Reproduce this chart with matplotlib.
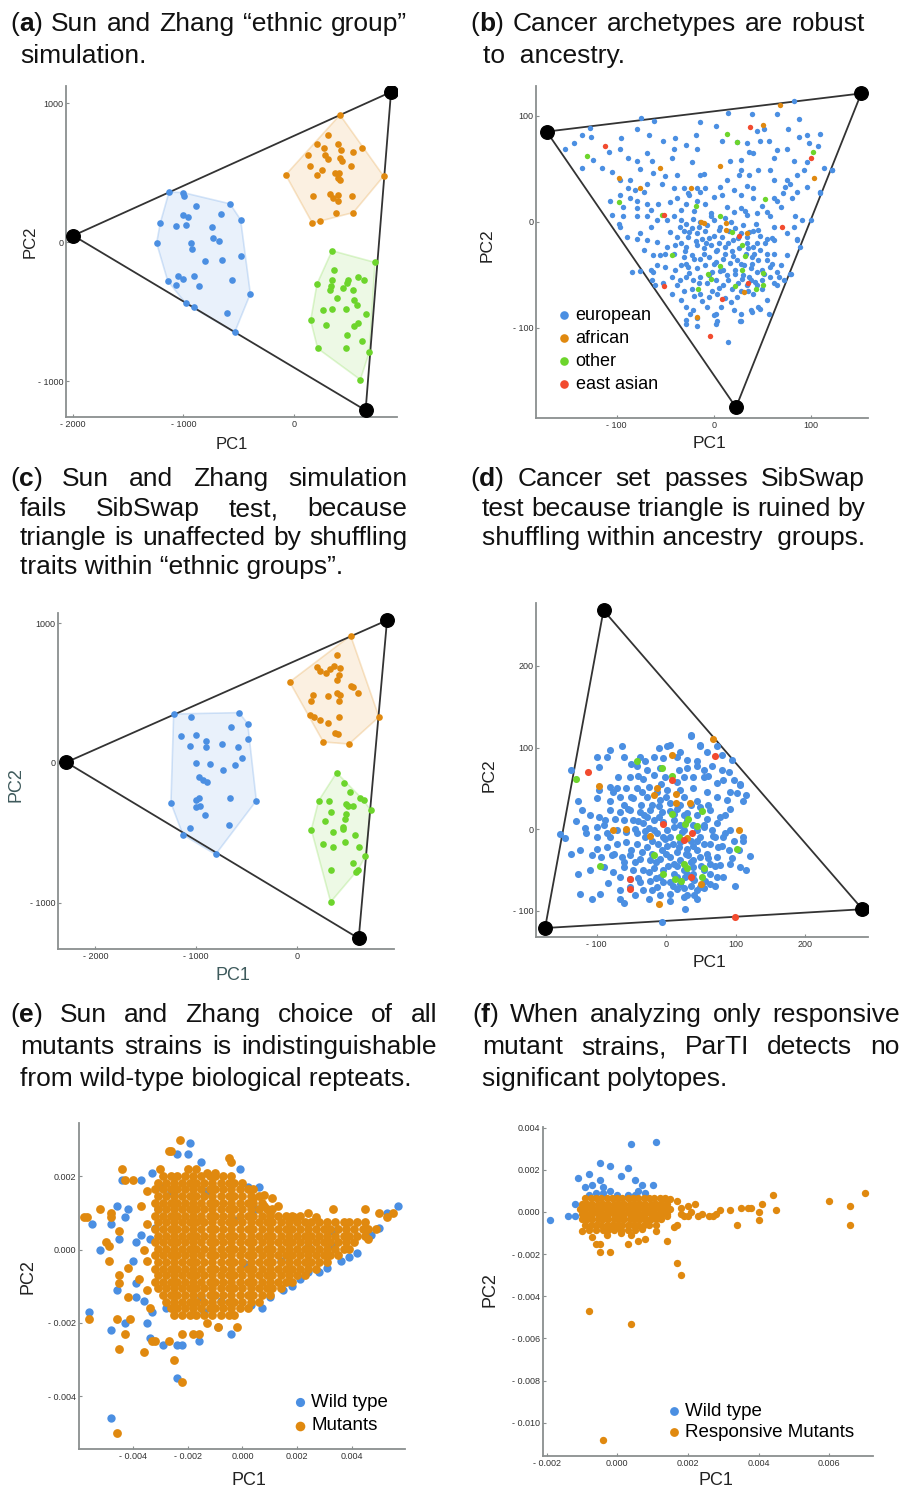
import numpy as np
import matplotlib
matplotlib.use("Agg")
import matplotlib.pyplot as plt
from matplotlib.patches import Polygon

plt.rcParams['font.family'] = ['Liberation Sans', 'DejaVu Sans']

W, H = 904, 1490

BLUE = '#4b8fe2'
ORANGE = '#e0890f'
GREEN = '#6dd52c'
RED = '#f24b2f'

# ---------------- panel a: Sun and Zhang simulation ----------------
a_vertices = [(-1997, 47), (878, 1081), (648, -1211)]
a_blue = [(-1131, 360), (-1005, 357), (-998, 333), (-890, 261), (-579, 276), (-661, 199),
          (-1002, 194), (-956, 180), (-1210, 137), (-1068, 118), (-977, 122), (-483, 161),
          (-739, 108), (-730, 29), (-679, 5), (-1243, -7), (-935, -7), (-923, -48),
          (-805, -139), (-649, -127), (-483, -103), (-1143, -278), (-1071, -312), (-1047, -247),
          (-1008, -264), (-905, -242), (-860, -319), (-558, -271), (-395, -372), (-980, -441),
          (-905, -465), (-609, -511), (-537, -650)]
a_orange = [(416, 916), (305, 770), (205, 707), (395, 703), (271, 676), (428, 664), (537, 647),
            (615, 676), (130, 624), (281, 628), (311, 600), (416, 604), (434, 585), (142, 549),
            (253, 516), (516, 547), (211, 484), (371, 496), (407, 496), (-75, 484), (811, 475),
            (395, 460), (416, 448), (175, 333), (326, 345), (401, 341), (356, 319), (401, 295),
            (528, 329), (380, 209), (537, 213), (166, 137), (235, 153)]
a_green = [(344, -62), (733, -146), (359, -204), (208, -302), (341, -276), (338, -314),
           (326, -348), (446, -331), (492, -276), (477, -295), (576, -252), (637, -271),
           (531, -343), (392, -400), (546, -415), (573, -456), (265, -492), (344, -480),
           (468, -480), (655, -518), (151, -564), (290, -595), (546, -607), (582, -583),
           (480, -667), (615, -712), (214, -765), (471, -763), (682, -791), (600, -990)]

# ---------------- panel c: SibSwap on simulation ----------------
c_vertices = [(-2288, 5), (893, 1023), (612, -1257)]
c_blue = [(-1223, 351), (-1048, 332), (-575, 361), (-489, 282), (-658, 260), (-1154, 191),
          (-998, 198), (-906, 160), (-906, 112), (-1064, 119), (-747, 136), (-585, 112),
          (-483, 174), (-545, 33), (-998, 2), (-866, -5), (-615, -12), (-734, -53),
          (-972, -103), (-932, -124), (-893, -139), (-1250, -287), (-998, -263), (-972, -251),
          (-998, -315), (-962, -311), (-661, -251), (-403, -270), (-916, -375), (-678, -444),
          (-1064, -468), (-1131, -514), (-807, -655)]
c_orange = [(532, 913), (400, 774), (198, 688), (231, 659), (324, 674), (367, 698), (426, 679),
            (284, 648), (413, 628), (397, 597), (-73, 581), (532, 550), (555, 545), (608, 499),
            (159, 487), (307, 483), (393, 499), (426, 485), (413, 447), (139, 447), (126, 346),
            (169, 327), (231, 306), (307, 287), (417, 330), (813, 330), (374, 215), (410, 205),
            (261, 151), (516, 136)]
c_green = [(393, -69), (466, -146), (522, -208), (215, -270), (314, -270), (483, -294),
           (509, -311), (555, -306), (628, -251), (661, -268), (731, -339), (334, -349),
           (489, -363), (479, -401), (281, -418), (456, -456), (456, -473), (142, -478),
           (357, -495), (575, -519), (479, -569), (258, -583), (357, -600), (615, -600),
           (678, -669), (552, -717), (334, -769), (582, -779), (605, -765), (334, -996)]

# ---------------- panel b: cancer archetypes ----------------
b_vertices = [(-172, 85), (152, 121), (23, -175)]
b_european = [
    (83, 114), (15, 103), (39, 102), (65, 102), (88, 97), (-75, 98), (-61, 95), (-14, 94),
    (2, 90), (45, 86), (52, 87), (77, 87), (-127, 88), (-136, 82), (-144, 74), (-153, 69),
    (-126, 80), (-95, 79), (-79, 87), (-67, 82), (-52, 76), (-40, 79), (-18, 82), (9, 76),
    (24, 75), (34, 74), (48, 76), (57, 76), (88, 80), (96, 82), (110, 83), (98, 74), (107, 71),
    (65, 68), (76, 69), (36, 66), (41, 65), (-17, 69), (-28, 72), (-41, 69), (-69, 65),
    (-96, 69), (-108, 66), (-124, 58), (-136, 51), (-115, 51), (-105, 47), (-88, 60), (-79, 57),
    (-64, 57), (-43, 60), (-22, 56), (17, 57), (28, 58), (62, 60), (83, 57), (96, 56),
    (114, 51), (122, 49), (58, 49), (46, 49), (28, 49), (36, 44), (14, 39), (26, 44), (-14, 44),
    (-38, 44), (-50, 43), (-62, 46), (-76, 50), (-96, 39), (-86, 39), (-69, 36), (-88, 32),
    (-81, 30), (-72, 28), (-53, 36), (-41, 32), (-31, 32), (-17, 32), (-9, 32), (7, 33),
    (21, 30), (34, 34), (41, 32), (62, 39), (76, 39), (86, 44), (93, 49), (79, 36), (74, 33),
    (71, 27), (86, 28), (96, 33), (110, 28), (81, 22), (62, 22), (41, 22), (28, 25), (9, 25),
    (0, 23), (-14, 28), (-26, 27), (-38, 22), (-45, 19), (-57, 17), (-69, 17), (-79, 20),
    (-86, 22), (-96, 25), (-107, 20), (-93, 14), (-79, 13), (-65, 11), (-79, 5), (-69, 5),
    (-58, 2), (-93, 5), (-105, 6), (-98, -2), (-96, -5), (-89, -14), (-76, -11), (-65, -5),
    (-48, 2), (-41, 5), (-34, 11), (-28, 17), (-17, 20), (-9, 17), (14, 14), (21, 9), (28, 13),
    (34, 6), (45, 8), (55, 9), (69, 14), (84, 5), (58, 5), (100, 2), (62, -5), (83, -5),
    (76, -11), (86, -16), (89, -24), (76, -31), (62, -30), (55, -36), (58, -43), (48, -27),
    (41, -24), (34, -20), (-34, 2), (-28, -2), (-21, 3), (-14, 0), (-7, -3), (0, 2), (7, -5),
    (-22, -6), (-31, -9), (-38, -14), (-26, -14), (-17, -11), (-9, -9), (0, -13), (9, -14),
    (16, -9), (22, -6), (28, -11), (34, -14), (41, -9), (48, -13), (55, -16), (62, -17),
    (-34, -20), (-28, -24), (-17, -22), (-10, -25), (-3, -22), (3, -27), (12, -24), (19, -28),
    (26, -25), (33, -30), (40, -33), (46, -36), (-41, -30), (-31, -33), (-22, -31), (-14, -35),
    (-5, -33), (2, -38), (10, -35), (17, -39), (24, -36), (31, -41), (38, -44), (45, -47),
    (52, -49), (58, -52), (65, -47), (-34, -41), (-26, -43), (-17, -44), (-9, -41), (-2, -47),
    (7, -46), (14, -50), (22, -49), (29, -54), (36, -52), (43, -57), (-28, -52), (-21, -55),
    (-14, -52), (-7, -58), (2, -55), (10, -60), (19, -63), (28, -65), (34, -60), (-38, -60),
    (-31, -65), (-22, -63), (-14, -68), (-5, -71), (3, -68), (12, -72), (24, -71), (41, -68),
    (50, -63), (62, -58), (72, -55), (79, -49), (69, -41), (-43, -52), (-50, -43), (-58, -41),
    (-55, -31), (-48, -24), (-58, -19), (-69, -17), (-79, -16), (-72, -27), (-62, -31),
    (-76, -46), (-62, -47), (-64, -55), (-52, -58), (-43, -68), (-34, -74), (-28, -80),
    (-21, -83), (-7, -80), (2, -87), (-17, -91), (-28, -93), (3, -94), (21, -83), (28, -87),
    (38, -83), (46, -80), (55, -74), (28, -94), (-28, -96), (-17, -98), (2, -96), (15, -113),
    (27, -94), (40, -85), (48, -82), (57, -87), (-24, -87), (-84, -47), (-65, -45), (122, 49),
    (110, 27), (91, 2), (86, -17), (80, -49), (67, -52), (-3, 8), (5, -20), (-12, -16),
    (20, -17), (-40, -22), (30, -3), (12, 4), (-20, 10), (53, -20), (44, -2),
    (-35, -5), (-25, -10), (-15, -5), (-5, -15), (5, -8), (15, -20), (25, -15), (35, -25),
    (45, -20), (-30, -28), (-20, -35), (-10, -30), (0, -40), (10, -45), (20, -32), (30, -50),
    (40, -40), (50, -45), (-25, -48), (-15, -58), (-5, -50), (5, -62), (15, -55), (25, -58),
    (35, -65), (45, -60), (-35, -55), (-12, -75), (8, -80), (18, -76), (-2, -65), (-20, -70),
    (55, -30), (60, -40), (50, -55), (-45, -10), (-50, -30), (-40, -45), (12, -30), (-8, -20),
    (28, -40), (38, -55), (-28, -40), (2, -28), (22, -45), (42, -30), (65, -60), (-18, -18),
    (-3, 5), (18, 0), (32, 10), (-25, 25), (50, 15), (65, 20), (-10, 45), (-60, -60), (0, -88),
    (36, -10), (46, -8), (60, -15)]
b_african = [(68, 110), (51, 91), (7, 53), (-55, 51), (-97, 41), (-76, 32), (-23, 32), (-13, 0),
             (-10, -1), (13, -1), (13, -8), (34, -11), (103, 41), (31, -66), (-17, -90)]
b_other = [(-130, 62), (14, 83), (24, 75), (102, 66), (-97, 19), (-18, 15), (53, 21), (-53, 6),
           (7, 5), (19, -10), (29, -22), (32, -32), (-43, -31), (7, -42), (-6, -49), (-3, -54),
           (29, -45), (51, -48), (-16, -63), (22, -61), (44, -63), (51, -60)]
b_east_asian = [(37, 89), (-112, 71), (100, 60), (-51, 6), (26, -13), (70, -5), (-51, -61),
                (35, -58), (9, -73), (-4, -108)]

# ---------------- panel d: cancer set after SibSwap ----------------
d_vertices = [(-90, 268), (282, -98), (-174, -121)]
d_european = [
    (35, 114), (1, 102), (48, 102), (58, 94), (73, 102), (80, 91), (94, 85), (-81, 97),
    (-64, 102), (-100, 89), (-85, 89), (-61, 89), (-136, 73), (-97, 76), (-37, 89), (-30, 83),
    (-18, 89), (-4, 87), (15, 89), (30, 85), (44, 83), (-42, 77), (-28, 73), (-9, 75), (18, 73),
    (30, 75), (44, 77), (54, 73), (66, 77), (80, 73), (82, 60), (73, 56), (97, 60), (106, 54),
    (92, 46), (54, 64), (39, 64), (25, 64), (15, 58), (-1, 64), (-18, 66), (-33, 62), (-52, 64),
    (-69, 64), (-81, 52), (-97, 48), (-76, 46), (-57, 50), (-42, 50), (-25, 52), (-13, 46),
    (1, 48), (20, 48), (39, 50), (59, 46), (73, 40), (87, 36), (102, 44), (111, 34), (92, 25),
    (78, 15), (63, 23), (49, 27), (35, 30), (20, 30), (6, 32), (-9, 36), (-28, 40), (-47, 38),
    (-66, 40), (-81, 34), (-100, 38), (-126, 34), (-121, 23), (-109, 17), (-97, 15), (-81, 23),
    (-66, 21), (-52, 23), (-37, 21), (-23, 23), (-6, 21), (11, 19), (25, 17), (44, 17), (59, 13),
    (73, 7), (92, -1), (111, -9), (97, -14), (82, -9), (66, -1), (54, 3), (39, 5), (25, -1),
    (11, 3), (-4, 9), (-18, 11), (-33, 7), (-47, 11), (-61, 11), (-73, 13), (-88, 11),
    (-100, 3), (-117, 1), (-153, -6), (-145, -11), (-100, -9), (-85, -5), (-71, -1), (-57, -3),
    (-42, -5), (-25, 1), (-13, -5), (1, -1), (6, -9), (20, -16), (35, -14), (49, -9), (63, -18),
    (75, -22), (90, -26), (104, -26), (121, -33), (73, -34), (59, -30), (44, -26), (30, -24),
    (15, -28), (1, -20), (-11, -18), (-28, -22), (-42, -18), (-57, -16), (-71, -18), (-85, -22),
    (-100, -24), (-107, -32), (-124, -26), (-136, -30), (-93, -34), (-78, -32), (-64, -34),
    (-52, -32), (-37, -36), (-23, -38), (-9, -36), (6, -34), (20, -38), (35, -40), (49, -34),
    (63, -42), (78, -44), (92, -42), (106, -46), (39, -46), (25, -50), (11, -55), (-4, -50),
    (-18, -48), (-33, -50), (-47, -50), (-61, -46), (-76, -52), (-90, -46), (-126, -55),
    (-83, -66), (-66, -59), (-52, -61), (-37, -65), (-23, -63), (-9, -59), (6, -65), (20, -67),
    (35, -69), (49, -71), (63, -67), (73, -59), (99, -70), (39, -61), (-13, -71), (-33, -75),
    (-52, -71), (-66, -75), (-95, -79), (-124, -79), (-107, -86), (-66, -85), (-25, -85),
    (-9, -81), (6, -79), (25, -83), (44, -85), (27, -98), (-6, -114), (56, -63), (44, -75),
    (15, -73), (-28, 15), (-18, -1), (-30, -9), (11, 11), (30, 11), (44, -1), (54, -18),
    (32, -32), (23, -3), (-6, -26), (-21, -30), (11, -42), (54, -50), (39, -55), (63, -55),
    (82, -59), (27, -59), (15, -59), (35, 115), (5, 103), (49, 103), (106, 55), (114, 42),
    (-10, 28), (-36, 30), (-2, -12), (18, -22), (38, -20), (-45, -40), (68, -8), (85, 18),
    (-60, 30), (-15, -60), (30, -80), (-40, 10),
    (-50, 40), (-35, 45), (-20, 30), (0, 40), (25, 40), (45, 35), (60, 30), (-55, 25), (-10, 15),
    (15, 25), (30, 20), (55, 5), (70, -10), (-45, 0), (-30, -2), (-5, -10), (10, -18), (28, -30),
    (45, -15), (60, -35), (-50, -25), (-35, -28), (-15, -40), (0, -30), (15, -45), (30, -55),
    (50, -45), (70, -45), (-60, -40), (-25, -52), (-5, -65), (10, -70), (25, -72), (40, -62),
    (55, -72), (-40, -60), (-20, -75), (5, -88), (-45, -80), (80, -20), (85, -5), (95, -35),
    (-80, -10), (-90, 5), (-75, -30), (-70, 50), (-110, -50), (-115, -5), (-130, 10), (-40, 65),
    (60, 65), (90, 70), (20, 95), (-10, 100), (-50, 80), (-20, -15), (2, -45), (38, -38),
    (-8, 55), (20, 5), (5, 22), (-32, 18), (40, -80), (-60, -90), (70, -70), (110, -15),
    (115, -50)]
d_african = [(67, 111), (8, 91), (-97, 53), (-13, 51), (-18, 42), (14, 43), (14, 32), (34, 32),
             (-76, -1), (-57, 0), (-23, -8), (104, -1), (50, -67), (-10, -91), (30, -11)]
d_other = [(-42, 84), (-129, 62), (-6, 75), (8, 65), (8, 19), (32, 13), (51, 22), (27, 6), (44, 4),
           (18, -10), (-18, -31), (-95, -45), (25, -42), (30, -47), (54, -48), (-4, -55), (13, -61),
           (22, -63), (51, -59), (102, -24)]
d_east_asian = [(-113, 70), (9, 60), (70, 90), (-5, 6), (37, -5), (26, -13), (35, -58), (-52, -61),
                (-52, -73), (99, -108)]

# ---------------- panel e: all mutants vs wild type (units of 1e-4) ----------------
e_wild = [(-19, 29), (-24, 26), (-20, 26), (-15, 24), (-1, 22), (2, 17), (6, 17), (-37, 19),
          (-44, 19), (-33, 21), (-46, 12), (-42, 11), (-48, 7), (-43, 9), (-55, 7), (-52, 0),
          (-39, 2), (-37, 4), (-40, -3), (-39, -9), (-46, -11), (-39, -13), (-56, -17), (-48, -22),
          (-43, -20), (-35, -20), (-34, -24), (-29, -26), (-24, -26), (-22, -26), (-16, -25),
          (-9, -21), (-4, -23), (-24, -35), (-48, -46), (-14, -17), (-8, -14), (7, -16), (3, -15),
          (15, -11), (18, -10), (24, -6), (31, -5), (36, -3), (39, -2), (47, 4), (50, 6), (57, 12),
          (53, 10), (33, 5), (4, 11), (5, 11), (1, -4), (-34, 3), (-32, 6), (-31, 11), (-25, 15),
          (-30, 17), (-15, -13), (-28, -16), (-33, -17), (-26, 16), (-3, 8), (14, -3), (24, 1),
          (33, 1), (-13, 16), (10, -13), (21, -8), (28, -6), (42, -1), (-36, -14), (-45, 3)]
e_mutant_rows = [
    (20.0, [-29, -26, -24, -21, -18, -15, -12, -10, -7, -4]),
    (18.2, [-31, -28, -25, -22, -19, -17, -14, -11, -8, -5, -3, 0]),
    (16.4, [-32, -29, -26, -24, -21, -18, -15, -12, -10, -7, -4, -1, 2, 4]),
    (14.6, [-31, -28, -25, -22, -19, -17, -14, -11, -8, -5, -3, 0, 3, 6]),
    (12.8, [-32, -29, -26, -24, -21, -18, -15, -12, -10, -7, -4, -1, 2, 4, 7]),
    (11.0, [-31, -28, -25, -22, -19, -17, -14, -11, -8, -5, -3, 0, 3, 6, 9, 11]),
    (9.2, [-32, -29, -26, -24, -21, -18, -15, -12, -10, -7, -4, -1, 2, 4, 7, 10, 13, 16, 18, 21]),
    (7.4, [-31, -28, -25, -22, -19, -17, -14, -11, -8, -5, -3, 0, 3, 6, 9, 11, 14, 17, 20, 23,
           25, 28, 31, 34, 37, 39, 42, 45]),
    (5.6, [-32, -29, -26, -24, -21, -18, -15, -12, -10, -7, -4, -1, 2, 4, 7, 10, 13, 16, 18, 21,
           24, 27, 30, 32, 35, 38, 41, 44, 46, 49]),
    (3.8, [-31, -28, -25, -22, -19, -17, -14, -11, -8, -5, -3, 0, 3, 6, 9, 11, 14, 17, 20, 23,
           25, 28, 31, 34, 37, 39, 42, 45]),
    (2.0, [-32, -29, -26, -24, -21, -18, -15, -12, -10, -7, -4, -1, 2, 4, 7, 10, 13, 16, 18, 21,
           24, 27, 30, 32, 35, 38, 41]),
    (0.2, [-31, -28, -25, -22, -19, -17, -14, -11, -8, -5, -3, 0, 3, 6, 9, 11, 14, 17, 20, 23,
           25, 28, 31, 34, 37, 39]),
    (-1.6, [-32, -29, -26, -24, -21, -18, -15, -12, -10, -7, -4, -1, 2, 4, 7, 10, 13, 16, 18, 21,
            24, 27, 30, 32, 35]),
    (-3.4, [-31, -28, -25, -22, -19, -17, -14, -11, -8, -5, -3, 0, 3, 6, 9, 11, 14, 17, 20, 23,
            25, 28, 31]),
    (-5.2, [-32, -29, -26, -24, -21, -18, -15, -12, -10, -7, -4, -1, 2, 4, 7, 10, 13, 16, 18, 21,
            24, 27]),
    (-7.0, [-31, -28, -25, -22, -19, -17, -14, -11, -8, -5, -3, 0, 3, 6, 9, 11, 14, 17, 20, 23]),
    (-8.8, [-32, -29, -26, -24, -21, -18, -15, -12, -10, -7, -4, -1, 2, 4, 7, 10, 13, 16, 18]),
    (-10.6, [-31, -28, -25, -22, -19, -17, -14, -11, -8, -5, -3, 0, 3, 6, 9, 11, 14]),
    (-12.4, [-29, -26, -24, -21, -18, -15, -12, -10, -7, -4, -1, 2, 4, 7, 10]),
    (-14.2, [-28, -25, -22, -19, -17, -14, -11, -8, -5, -3, 0, 3, 6]),
    (-16.0, [-26, -24, -21, -18, -15, -12, -10, -7, -4, -1, 2]),
    (-17.8, [-25, -22, -19, -17, -14, -11, -8, -5, -3]),
]
e_mutant_edge = [(-23, 30), (-27, 27), (-26, 27), (-5, 25), (-4, 24), (-44, 22), (-43, 19),
                 (-40, 19), (-57, 9), (-58, 9), (-48, 10), (-50, 2), (-49, 1), (-49, -3), (-45, -7),
                 (-45, -9), (-42, -13), (-56, -19), (-46, -19), (-41, -19), (-43, -23), (-45, -27),
                 (-36, -28), (-33, -25), (-32, -25), (-27, -25), (-25, -30), (-22, -36), (-46, -50),
                 (-22, -23), (-18, -23), (-16, -23), (-13, -20), (-9, -21), (-2, -21), (33, 11),
                 (45, 11), (50, 10), (55, 10), (53, 9), (46, 3), (19, 9), (11, 14), (8, 12), (10, 10),
                 (4, 14), (-15, 8), (-52, 11), (-48, 9), (-45, 5), (-42, -5), (-35, 16), (-37, 12),
                 (-38, -8), (-36, 0), (-34, -16), (-30, 22), (-17, 22), (-10, 21), (-35, 7),
                 (-20, 22), (-13, 21), (8, 15), (13, 12), (24, 10), (27, 9), (-35, -11), (-35, -3)]

# ---------------- panel f: responsive mutants vs wild type (units of 1e-4) ----------------
f_wild = [(4, 32), (11, 33), (-5, 23), (-2, 22), (3, 21), (-11, 16), (-8, 18), (1, 17), (-9, 12),
          (-7, 13), (-5, 15), (-4, 12), (5, 15), (7, 13), (10, 13), (6, 10), (-8, 8), (-6, 9),
          (-4, 9), (0, 8), (3, 8), (5, 8), (-12, 4), (-14, -2), (-12, -2), (-19, -4), (12, -2),
          (14, 2), (4, -2), (-2, 10), (8, 9)]
f_mutant_rows = [
    (6.5, [-9, -7.5, -6, -4.5, -3, -1.5, 0, 1.5, 3, 4.5, 6, 7.5, 9, 10.5, 12, 13.5]),
    (4, [-10, -8.5, -7, -5.5, -4, -2.5, -1, 0.5, 2, 3.5, 5, 6.5, 8, 9.5, 11, 12.5, 14]),
    (1.5, [-10.5, -9, -7.5, -6, -4.5, -3, -1.5, 0, 1.5, 3, 4.5, 6, 7.5, 9, 10.5, 12, 13.5, 15]),
    (-1, [-10, -8.5, -7, -5.5, -4, -2.5, -1, 0.5, 2, 3.5, 5, 6.5, 8, 9.5, 11, 12.5, 14]),
    (-3.5, [-10, -8.5, -7, -5.5, -4, -2.5, -1, 0.5, 2, 3.5, 5, 6.5, 8, 9.5, 11, 12.5]),
    (-6, [-9, -7.5, -6, -4.5, -3, -1.5, 0, 1.5, 3, 4.5, 6, 7.5, 9]),
    (-8.5, [-8, -6, -4, -2.5, -1, 1, 3, 5]),
]
f_mutant_edge = [(-10, -9), (-6, -15), (-5, -19), (-2, -19), (-5, -15), (0, -7), (4, -11), (3, -15),
                 (6, -14), (8, -13), (11, -9), (14, -14), (16, -7), (17, -6), (17, -24), (18, -30),
                 (-8, -47), (4, -53), (-4, -108), (13, 6), (15, 6), (17, 5), (18, 2), (20, 3),
                 (22, 4), (19, -2), (20, -2), (23, -2), (24, -1), (26, -2), (27, -2), (28, -1),
                 (29, 1), (32, 1), (34, -6), (35, 2), (37, 2), (38, 2), (40, 0), (40, -4), (41, 4),
                 (44, 8), (45, 1), (60, 5), (66, -6), (66, 3), (70, 9), (21, 0), (18, -1), (14, -2),
                 (11, -6), (7, -8), (9, -4), (-7, -12), (-3, -11), (1, -10)]

# ---------------- tick labels ----------------
sim_xticks, sim_xlabels = [-2000, -1000, 0], ['- 2000', '- 1000', '0']
sim_yticks, sim_ylabels = [1000, 0, -1000], ['1000', '0', '- 1000']
b_xticks, b_xlabels = [-100, 0, 100], ['- 100', '0', '100']
b_yticks, b_ylabels = [100, 0, -100], ['100', '0', '- 100']
d_xticks, d_xlabels = [-100, 0, 100, 200], ['- 100', '0', '100', '200']
d_yticks, d_ylabels = [200, 100, 0, -100], ['200', '100', '0', '- 100']
e_xticks, e_xlabels = [-0.004, -0.002, 0, 0.002, 0.004], ['- 0.004', '- 0.002', '0.000', '0.002', '0.004']
e_yticks, e_ylabels = [0.002, 0, -0.002, -0.004], ['0.002', '0.000', '- 0.002', '- 0.004']
f_xticks, f_xlabels = [-0.002, 0, 0.002, 0.004, 0.006], ['- 0.002', '0.000', '0.002', '0.004', '0.006']
f_yticks = [0.004, 0.002, 0, -0.002, -0.004, -0.006, -0.008, -0.010]
f_ylabels = ['0.004', '0.002', '0.000', '- 0.002', '- 0.004', '- 0.006', '- 0.008', '- 0.010']


def xy(pts, scale=1.0):
    arr = np.array(pts, dtype=float)
    return arr[:, 0] * scale, arr[:, 1] * scale


def rows_to_xy(rows, scale):
    xs, ys = [], []
    for yv, row in rows:
        for xv in row:
            xs.append(xv)
            ys.append(yv)
    return np.array(xs) * scale, np.array(ys) * scale


def convex_hull(px, py):
    pts = sorted(set(zip(px, py)))

    def cross(o, a, b):
        return (a[0] - o[0]) * (b[1] - o[1]) - (a[1] - o[1]) * (b[0] - o[0])
    lower = []
    for p in pts:
        while len(lower) >= 2 and cross(lower[-2], lower[-1], p) <= 0:
            lower.pop()
        lower.append(p)
    upper = []
    for p in reversed(pts):
        while len(upper) >= 2 and cross(upper[-2], upper[-1], p) <= 0:
            upper.pop()
        upper.append(p)
    return lower[:-1] + upper[:-1]


def make_axes(fig, left, top, right, bottom):
    return fig.add_axes([left / W, 1 - bottom / H, (right - left) / W, (bottom - top) / H])


def style_axes(ax, xt, xl, yt, yl, spine_color='#8a8f8f', label_color='#222222',
               label_size=12, xlab=(0.5, -0.08), ylab=(-0.12, 0.5)):
    for s in ['top', 'right']:
        ax.spines[s].set_visible(False)
    for s in ['left', 'bottom']:
        ax.spines[s].set_color(spine_color)
        ax.spines[s].set_linewidth(1.3)
    ax.set_xticks(xt)
    ax.set_xticklabels(xl)
    ax.set_yticks(yt)
    ax.set_yticklabels(yl)
    ax.tick_params(direction='in', length=2.5, width=0.8, color=spine_color,
                   labelsize=6.5, labelcolor='#333333', pad=2)
    ax.set_xlabel('PC1', fontsize=label_size, color=label_color)
    ax.set_ylabel('PC2', fontsize=label_size, color=label_color)
    ax.xaxis.set_label_coords(*xlab)
    ax.yaxis.set_label_coords(*ylab)


def draw_triangle(ax, verts):
    vx, vy = xy(verts)
    ax.plot(np.append(vx, vx[0]), np.append(vy, vy[0]), color='#333333', lw=1.3, zorder=3)
    ax.scatter(vx, vy, s=95, color='black', zorder=6)


def draw_cluster(ax, pts, color):
    px, py = xy(pts)
    h = convex_hull(list(px), list(py))
    rgb = matplotlib.colors.to_rgb(color)
    ax.add_patch(Polygon(h, closed=True, facecolor=rgb + (0.12,), edgecolor=rgb + (0.22,),
                         lw=1.2, zorder=1))
    ax.scatter(px, py, s=23, color=color, linewidths=0, zorder=4)


fig = plt.figure(figsize=(W / 100, H / 100), dpi=100)

# panel a
ax = make_axes(fig, 66, 86, 397, 417)
draw_triangle(ax, a_vertices)
draw_cluster(ax, a_blue, BLUE)
draw_cluster(ax, a_orange, ORANGE)
draw_cluster(ax, a_green, GREEN)
ax.set_xlim(-2063, 932)
ax.set_ylim(-1259, 1124)
style_axes(ax, sim_xticks, sim_xlabels, sim_yticks, sim_ylabels,
           xlab=(0.50, -0.06), ylab=(-0.085, 0.53))

# panel c
ax = make_axes(fig, 58, 613, 394, 949)
draw_triangle(ax, c_vertices)
draw_cluster(ax, c_blue, BLUE)
draw_cluster(ax, c_orange, ORANGE)
draw_cluster(ax, c_green, GREEN)
ax.set_xlim(-2370, 962)
ax.set_ylim(-1333, 1075)
style_axes(ax, sim_xticks, sim_xlabels, sim_yticks, sim_ylabels, label_color='#3e5a5c',
           label_size=13, xlab=(0.52, -0.055), ylab=(-0.10, 0.49))

# panels b and d
groups = [('european', BLUE), ('african', ORANGE), ('other', GREEN), ('east asian', RED)]
for key, verts, series, lims, ticks, spec in [
        ('b', b_vertices, [b_european, b_african, b_other, b_east_asian],
         ((-183, 159), (-185, 128)), (b_xticks, b_xlabels, b_yticks, b_ylabels),
         ((536, 86, 868, 418), 15, (0.524, -0.055), (-0.125, 0.52))),
        ('d', d_vertices, [d_european, d_african, d_other, d_east_asian],
         ((-187, 290), (-132, 277)), (d_xticks, d_xlabels, d_yticks, d_ylabels),
         ((536, 603, 868, 937), 26, (0.524, -0.055), (-0.12, 0.485)))]:
    box, size, xlab, ylab = spec
    ax = make_axes(fig, *box)
    draw_triangle(ax, verts)
    handles = []
    for (name, col), pts in zip(groups, series):
        px, py = xy(pts)
        handles.append(ax.scatter(px, py, s=size, color=col, linewidths=0, zorder=4, label=name))
    ax.set_xlim(*lims[0])
    ax.set_ylim(*lims[1])
    style_axes(ax, *ticks, xlab=xlab, ylab=ylab, label_size=12.5)
    if key == 'b':
        ax.legend(handles=handles, loc='upper left', bbox_to_anchor=(0.068, 0.335),
                  frameon=False, fontsize=13, handlelength=0.6, handletextpad=0.35,
                  labelspacing=0.33, borderpad=0, borderaxespad=0, markerscale=1.6)

# panel e
ax = make_axes(fig, 79, 1123, 405, 1449)
ex, ey = xy(e_wild, 1e-4)
mx1, my1 = rows_to_xy(e_mutant_rows, 1e-4)
mx2, my2 = xy(e_mutant_edge, 1e-4)
h_m = ax.scatter(np.concatenate([mx1, mx2]), np.concatenate([my1, my2]), s=40, color=ORANGE,
                 linewidths=0, zorder=3, label='Mutants')
h_w = ax.scatter(ex, ey, s=36, color=BLUE, linewidths=0, zorder=2, label='Wild type')
ax.set_xlim(-0.00598, 0.00595)
ax.set_ylim(-0.00544, 0.00345)
style_axes(ax, e_xticks, e_xlabels, e_yticks, e_ylabels, label_size=13,
           xlab=(0.52, -0.07), ylab=(-0.13, 0.53))
ax.legend(handles=[h_w, h_m], loc='upper left', bbox_to_anchor=(0.66, 0.168), frameon=False,
          fontsize=13.5, handlelength=0.6, handletextpad=0.3, labelspacing=0.32, borderpad=0,
          borderaxespad=0, markerscale=1.1)

# panel f
ax = make_axes(fig, 543, 1127, 873, 1456)
wx, wy = xy(f_wild, 1e-4)
fx1, fy1 = rows_to_xy(f_mutant_rows, 1e-4)
fx2, fy2 = xy(f_mutant_edge, 1e-4)
h_w = ax.scatter(wx, wy, s=28, color=BLUE, linewidths=0, zorder=2, label='Wild type')
h_m = ax.scatter(np.concatenate([fx1, fx2]), np.concatenate([fy1, fy2]), s=28, color=ORANGE,
                 linewidths=0, zorder=3, label='Responsive Mutants')
ax.set_xlim(-0.0021, 0.00724)
ax.set_ylim(-0.01158, 0.00403)
style_axes(ax, f_xticks, f_xlabels, f_yticks, f_ylabels, label_size=13,
           xlab=(0.524, -0.05), ylab=(-0.135, 0.505))
ax.legend(handles=[h_w, h_m], loc='upper left', bbox_to_anchor=(0.38, 0.162), frameon=False,
          fontsize=13.5, handlelength=0.6, handletextpad=0.3, labelspacing=0.2, borderpad=0,
          borderaxespad=0, markerscale=1.2)

# ---------------- titles (justified lines) ----------------
TFS = 19
fig.canvas.draw()
renderer = fig.canvas.get_renderer()


def text_width(s, weight='normal'):
    t = fig.text(0, 0, s, fontsize=TFS, weight=weight)
    w = t.get_window_extent(renderer).width
    t.remove()
    return w


SPACE = text_width('a a') - text_width('aa')


def title_line(text, x0, x1, base, label=None):
    words = text.split(' ')
    pieces = []
    if label is not None:
        pieces.append([('(', 'normal'), (label, 'bold'), (')', 'normal')])
    for wd in words:
        pieces.append([(wd, 'normal')])
    widths = [sum(text_width(s, wt) for s, wt in p) for p in pieces]
    if x1 is not None and len(pieces) > 1:
        gap = (x1 - x0 - sum(widths)) / (len(pieces) - 1)
    else:
        gap = SPACE
    x = x0
    for p, wdt in zip(pieces, widths):
        xx = x
        for s, wt in p:
            fig.text(xx / W, 1 - base / H, s, fontsize=TFS, weight=wt, ha='left',
                     va='baseline', color='#111111')
            xx += text_width(s, wt)
        x += wdt + gap


def plain_line(text, x0, base):
    fig.text(x0 / W, 1 - base / H, text, fontsize=TFS, ha='left', va='baseline', color='#111111')


title_line('Sun and Zhang “ethnic group”', 10, 407, 31, 'a')
plain_line('simulation.', 20, 63)
title_line('Cancer archetypes are robust', 470, 865, 31, 'b')
plain_line('to  ancestry.', 483, 63)

title_line('Sun and Zhang simulation', 10, 407, 486, 'c')
title_line('fails SibSwap test, because', 20, 407, 516)
title_line('triangle is unaffected by shuffling', 20, 407, 545)
plain_line('traits within “ethnic groups”.', 20, 574)
title_line('Cancer set passes SibSwap', 470, 865, 486, 'd')
title_line('test because triangle is ruined by', 482, 865, 516)
plain_line('shuffling within ancestry  groups.', 482, 545)

title_line('Sun and Zhang choice of all', 10, 437, 1022, 'e')
title_line('mutants strains is indistinguishable', 20, 437, 1054)
plain_line('from wild-type biological repteats.', 20, 1086)
title_line('When analyzing only responsive', 472, 900, 1022, 'f')
title_line('mutant strains, ParTI detects no', 482, 900, 1054)
plain_line('significant polytopes.', 482, 1086)

fig.savefig('out.png', dpi=100)
